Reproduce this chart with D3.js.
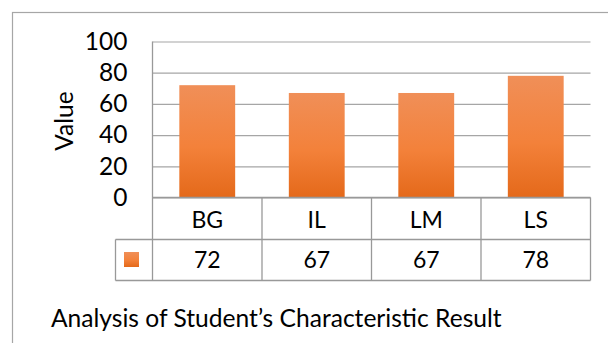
<!DOCTYPE html>
<html>
<head>
<meta charset="utf-8">
<script src="https://cdn.jsdelivr.net/npm/d3@7"></script>
<style>
  body { margin: 0; background: #fff; }
  text { font-family: Lato, "Open Sans", sans-serif; fill: #000; }
</style>
</head>
<body>
<svg id="chart" width="608" height="343"></svg>
<script>
const categories = ["BG", "IL", "LM", "LS"];
const values = [72, 67, 67, 78];
const yTicks = [0, 20, 40, 60, 80, 100];
const axisTitle = "Value";
const chartTitle = "Analysis of Student\u2019s Characteristic Result";

const svg = d3.select("#chart");
const plotLeft = 152.5, plotRight = 590.5, plotTop = 41.5, plotBottom = 197.5;
const row1 = 239.5, row2 = 280.5, legendLeft = 115.5;

// gradient for bars
const defs = svg.append("defs");
const grad = defs.append("linearGradient")
  .attr("id", "barGrad").attr("x1", 0).attr("y1", 0).attr("x2", 0).attr("y2", 1);
grad.append("stop").attr("offset", "0%").attr("stop-color", "#F08F58");
grad.append("stop").attr("offset", "55%").attr("stop-color", "#F3813A");
grad.append("stop").attr("offset", "100%").attr("stop-color", "#E4691A");

// outer chart border (only left/top visible)
svg.append("rect")
  .attr("x", 12.5).attr("y", 12.5)
  .attr("width", 620).attr("height", 360)
  .attr("fill", "none").attr("stroke", "#A6A6A6").attr("stroke-width", 1.2);

const x = d3.scaleBand().domain(categories).range([plotLeft, plotRight]);
const xBar = d3.scaleBand().domain(categories).range([plotLeft, plotRight])
  .paddingInner(0.49).paddingOuter(0.245);
const y = d3.scaleLinear().domain([0, 100]).range([plotBottom, plotTop]);

// gridlines + tick labels
const yAxis = d3.axisLeft(y)
  .tickValues(yTicks)
  .tickSizeInner(-(plotRight - plotLeft))
  .tickSizeOuter(0)
  .tickPadding(25);

const gy = svg.append("g").attr("transform", `translate(${plotLeft},0)`).call(yAxis);
gy.select(".domain").remove();
gy.selectAll(".tick line").attr("stroke", "#A6A6A6").attr("stroke-width", 1.2);
gy.selectAll(".tick text")
  .attr("font-size", 24.5)
  .attr("font-family", "Lato, sans-serif")
  .attr("fill", "#000");

// bars
svg.append("g").selectAll("rect")
  .data(values)
  .join("rect")
  .attr("x", (d, i) => xBar(categories[i]))
  .attr("y", d => y(d))
  .attr("width", xBar.bandwidth())
  .attr("height", d => y(0) - y(d))
  .attr("fill", "url(#barGrad)");

// data table lines
const lineColor = "#999";
const table = svg.append("g").attr("stroke", lineColor).attr("stroke-width", 1.3);
table.append("line").attr("x1", plotLeft).attr("x2", plotLeft).attr("y1", plotTop).attr("y2", row2);
table.append("line").attr("x1", plotLeft).attr("x2", plotRight).attr("y1", plotBottom).attr("y2", plotBottom);
table.append("line").attr("x1", legendLeft).attr("x2", plotRight).attr("y1", row1).attr("y2", row1);
table.append("line").attr("x1", legendLeft).attr("x2", plotRight).attr("y1", row2).attr("y2", row2);
table.append("line").attr("x1", legendLeft).attr("x2", legendLeft).attr("y1", row1).attr("y2", row2);
table.selectAll(".col")
  .data(categories)
  .join("line")
  .attr("class", "col")
  .attr("x1", d => x(d) + x.bandwidth())
  .attr("x2", d => x(d) + x.bandwidth())
  .attr("y1", plotBottom).attr("y2", row2);

// category labels
svg.append("g").selectAll("text")
  .data(categories)
  .join("text")
  .attr("x", d => x(d) + x.bandwidth() / 2)
  .attr("y", 227.5)
  .attr("text-anchor", "middle")
  .attr("font-size", 23)
  .text(d => d);

// value labels
svg.append("g").selectAll("text")
  .data(values)
  .join("text")
  .attr("x", (d, i) => x(categories[i]) + x.bandwidth() / 2)
  .attr("y", 268)
  .attr("text-anchor", "middle")
  .attr("font-size", 23)
  .text(d => d);

// legend key
svg.append("rect")
  .attr("x", 124).attr("y", 252)
  .attr("width", 15).attr("height", 15)
  .attr("fill", "url(#barGrad)");

// axis title
svg.append("text")
  .attr("transform", "translate(72.5,121) rotate(-90)")
  .attr("text-anchor", "middle")
  .attr("font-size", 24.5)
  .text(axisTitle);

// chart title (bottom)
svg.append("text")
  .attr("x", 51)
  .attr("y", 326.5)
  .attr("font-size", 24.6)
  .text(chartTitle);
</script>
</body>
</html>
